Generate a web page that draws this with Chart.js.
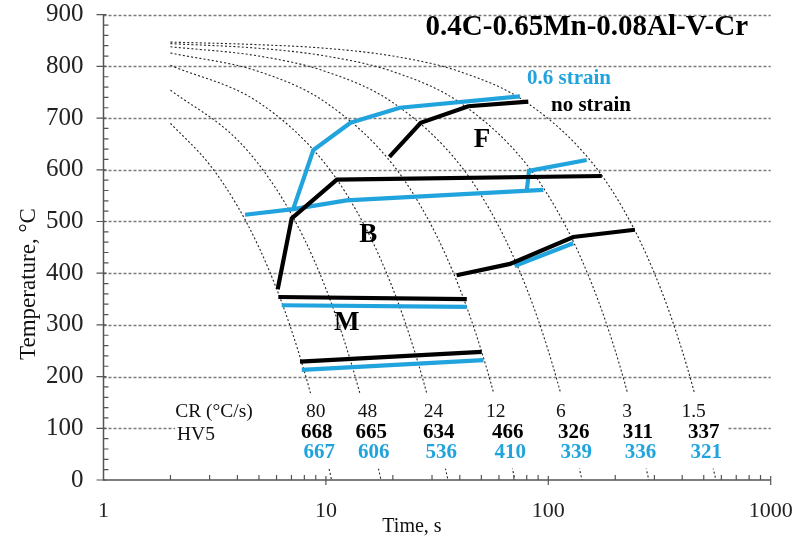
<!DOCTYPE html>
<html>
<head>
<meta charset="utf-8">
<script src="https://cdn.jsdelivr.net/npm/chart.js@4"></script>
<style>
  html, body { margin: 0; padding: 0; background: #fff; }
  #wrap { width: 797px; height: 545px; }
</style>
</head>
<body>
<div id="wrap"><canvas id="cct"></canvas></div>
<script>
// cooling rates (°C/s) and HV5 hardness for each rate
const coolingRates = ['80', '48', '24', '12', '6', '3', '1.5'];
const hvNoStrain = [668, 665, 634, 466, 326, 311, 337];
const hvStrained = [667, 606, 536, 410, 339, 336, 321];

// dotted cooling curves, [time s, temperature °C]
const curve80 = [[2, 690], [3, 610], [4, 530], [5, 450], [6, 370], [7, 290], [8, 210], [9, 130], [10, 50], [10.6, 0]];
const curve48 = [[2, 754], [4, 658], [6, 562], [8, 466], [10, 370], [12, 274], [14, 178], [16, 82], [17.7, 0]];
const curve24 = [[2, 802], [5, 730], [10, 610], [15, 490], [20, 370], [25, 250], [30, 130], [33, 58], [35.4, 0]];
const curve12 = [[2, 826], [5, 790], [10, 730], [20, 610], [30, 490], [40, 370], [50, 250], [60, 130], [66, 58], [70.8, 0]];
const curve6 = [[2, 838], [5, 820], [10, 790], [20, 730], [40, 610], [60, 490], [80, 370], [100, 250], [120, 130], [132, 58], [141.7, 0]];
const curve3 = [[2, 844], [5, 835], [10, 820], [20, 790], [40, 730], [80, 610], [120, 490], [160, 370], [200, 250], [240, 130], [265, 55], [283, 0]];
const curve15 = [[2, 847], [5, 842], [10, 835], [20, 820], [40, 790], [80, 730], [160, 610], [240, 490], [320, 370], [400, 250], [480, 130], [530, 55], [567, 0]];
const coolingCurves = [curve80, curve48, curve24, curve12, curve6, curve3, curve15];

// transformation lines, no strain
const noStrainFs = [[19.3, 625], [26.7, 691], [43.7, 723], [81.3, 732]];
const noStrainBs = [[6.07, 369], [7.02, 506], [11.2, 581], [174, 588]];
const noStrainBf = [[38.7, 396], [67.3, 418], [129.5, 470], [245, 484]];
const noStrainMs = [[6.11, 354], [43, 350]];
const noStrainMf = [[7.65, 229], [50.2, 248]];

// transformation lines, 0.6 strain
const strainFs = [[7.14, 525], [8.78, 638], [12.9, 691], [21.5, 720], [74.6, 742]];
const strainBs = [[4.33, 513], [7.14, 524], [12.4, 541], [95, 561]];
const strainFf = [[80, 559], [81.9, 598], [148.8, 619]];
const strainBf = [[70.5, 414], [129.5, 458]];
const strainMs = [[6.33, 338], [43, 335]];
const strainMf = [[7.79, 213], [51.1, 232]];

const BLUE = '#21a3dd';
const SERIF = '"Liberation Serif", "Times New Roman", serif';

// where the table labels sit (time on the x axis)
const labelTimes = [9.0, 15.4, 30.5, 58, 114, 226, 450];
const hvTimes = [9.1, 16, 32.2, 65.8, 130, 253, 500];

const toXY = arr => arr.map(p => ({ x: p[0], y: p[1] }));

const datasets = [];
[noStrainFs, noStrainBs, noStrainBf, noStrainMs, noStrainMf].forEach(d => datasets.push({
  data: toXY(d), borderColor: '#000', borderWidth: 4.2, order: 0
}));
[strainFs, strainBs, strainFf, strainBf, strainMs, strainMf].forEach(d => datasets.push({
  data: toXY(d), borderColor: BLUE, borderWidth: 4.2, order: 1
}));
coolingCurves.forEach(d => datasets.push({
  data: toXY(d), borderColor: '#222', borderWidth: 1.1, borderDash: [2, 2.2],
  cubicInterpolationMode: 'monotone', order: 2
}));

const text = (ctx, str, x, y, font, color, align) => {
  ctx.font = font;
  ctx.fillStyle = color;
  ctx.textAlign = align || 'center';
  ctx.textBaseline = 'middle';
  ctx.fillText(str, x, y);
};

const cctPlugin = {
  id: 'cct',
  beforeDatasetsDraw(chart) {
    const { ctx, chartArea: a, scales: { y } } = chart;
    ctx.save();
    ctx.strokeStyle = '#7a7a7a';
    ctx.lineWidth = 1.4;
    ctx.setLineDash([3, 2]);
    for (let v = 100; v <= 900; v += 100) {
      const py = Math.round(y.getPixelForValue(v)) + 0.5;
      ctx.beginPath();
      ctx.moveTo(a.left, py);
      ctx.lineTo(a.right, py);
      ctx.stroke();
    }
    ctx.restore();
  },
  afterDatasetsDraw(chart) {
    const { ctx, chartArea: a, scales: { x, y } } = chart;
    ctx.save();

    // white panel behind the table of rates and hardness
    ctx.fillStyle = '#fff';
    const bx0 = x.getPixelForValue(2.1), bx1 = x.getPixelForValue(640);
    const by0 = y.getPixelForValue(168), by1 = y.getPixelForValue(22);
    ctx.fillRect(bx0, by0, bx1 - bx0, by1 - by0);

    // axes and tick marks
    ctx.strokeStyle = '#555';
    ctx.lineWidth = 1.5;
    ctx.beginPath();
    ctx.moveTo(a.left, a.top);
    ctx.lineTo(a.left, a.bottom);
    ctx.lineTo(a.right, a.bottom);
    ctx.stroke();
    ctx.lineWidth = 1.2;
    ctx.beginPath();
    for (let v = 0; v <= 900; v += 20) {
      const py = y.getPixelForValue(v);
      if (v % 100 === 0) { ctx.moveTo(a.left - 7, py); ctx.lineTo(a.left + 3, py); }
      else { ctx.moveTo(a.left, py); ctx.lineTo(a.left + 5, py); }
    }
    [1, 10, 100].forEach(dec => {
      for (let k = 1; k <= 10; k++) {
        const px = x.getPixelForValue(k * dec);
        if (k === 10) { ctx.moveTo(px, a.bottom - 4); ctx.lineTo(px, a.bottom + 5); }
        else if (k > 1) { ctx.moveTo(px, a.bottom); ctx.lineTo(px, a.bottom - 5); }
      }
    });
    ctx.stroke();

    // title and legend text
    text(ctx, '0.4C-0.65Mn-0.08Al-V-Cr', x.getPixelForValue(149), y.getPixelForValue(876), 'bold 29px ' + SERIF, '#000');
    text(ctx, '0.6 strain', x.getPixelForValue(80.2), y.getPixelForValue(776), 'bold 21px ' + SERIF, BLUE, 'left');
    text(ctx, 'no strain', x.getPixelForValue(102.8), y.getPixelForValue(725), 'bold 21px ' + SERIF, '#000', 'left');

    // phase fields
    text(ctx, 'F', x.getPixelForValue(50.3), y.getPixelForValue(658), 'bold 27px ' + SERIF, '#000');
    text(ctx, 'B', x.getPixelForValue(15.5), y.getPixelForValue(474), 'bold 27px ' + SERIF, '#000');
    text(ctx, 'M', x.getPixelForValue(12.4), y.getPixelForValue(304), 'bold 27px ' + SERIF, '#000');

    // cooling rate and hardness table
    text(ctx, 'CR (°C/s)', x.getPixelForValue(2.1), y.getPixelForValue(131), '19.5px ' + SERIF, '#111', 'left');
    text(ctx, 'HV5', x.getPixelForValue(2.14), y.getPixelForValue(87), '19.5px ' + SERIF, '#111', 'left');
    coolingRates.forEach((cr, i) => {
      text(ctx, cr, x.getPixelForValue(labelTimes[i]), y.getPixelForValue(131), '19.5px ' + SERIF, '#111');
      const hx = x.getPixelForValue(hvTimes[i]);
      text(ctx, String(hvNoStrain[i]), hx, y.getPixelForValue(91), 'bold 21px ' + SERIF, '#000');
      text(ctx, String(hvStrained[i]), hx + 2.5, y.getPixelForValue(54), 'bold 21px ' + SERIF, BLUE);
    });

    // axis titles
    ctx.translate(29, 284);
    ctx.rotate(-Math.PI / 2);
    text(ctx, 'Temperature, °C', 0, 0, '23px ' + SERIF, '#111');
    ctx.restore();
    text(ctx, 'Time, s', 412, 527, '20px ' + SERIF, '#111');
  }
};

new Chart(document.getElementById('cct'), {
  type: 'scatter',
  data: { datasets },
  options: {
    responsive: true,
    maintainAspectRatio: false,
    animation: false,
    showLine: true,
    elements: { point: { radius: 0, hoverRadius: 0 }, line: { borderCapStyle: 'butt', borderJoinStyle: 'miter', fill: false } },
    layout: { padding: { top: 14.7, right: 26.3, left: 0, bottom: 0 }, autoPadding: false },
    plugins: { legend: { display: false }, tooltip: { enabled: false }, title: { display: false } },
    scales: {
      x: {
        type: 'logarithmic', min: 1, max: 1000,
        grid: { display: false, drawTicks: false }, border: { display: false },
        afterFit: s => { s.height = 65; s.paddingLeft = 0; s.paddingRight = 0; },
        ticks: {
          autoSkip: false, maxRotation: 0, padding: 18, color: '#222',
          font: { family: SERIF, size: 22 },
          callback: v => ([1, 10, 100, 1000].includes(v) ? String(v) : '')
        }
      },
      y: {
        min: 0, max: 900,
        grid: { display: false, drawTicks: false }, border: { display: false },
        afterFit: s => { s.width = 103.5; s.paddingTop = 0; s.paddingBottom = 0; },
        ticks: { stepSize: 100, padding: 20, color: '#222', font: { family: SERIF, size: 25 } }
      }
    }
  },
  plugins: [cctPlugin]
});
</script>
</body>
</html>
